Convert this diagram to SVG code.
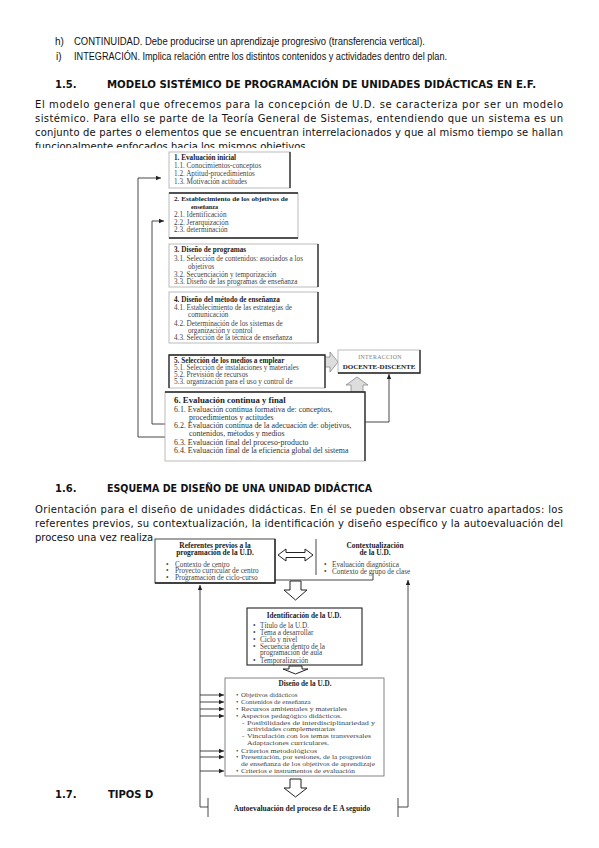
<svg xmlns="http://www.w3.org/2000/svg" width="599" height="848" viewBox="0 0 599 848">
<defs>
<style>
.list{font-family:"Liberation Sans",Arial,sans-serif;font-size:10px;fill:#111}
.body{font-family:"DejaVu Sans",Verdana,sans-serif;font-size:10px;fill:#111}
.h{font-family:"DejaVu Sans",Verdana,sans-serif;font-size:10px;font-weight:bold;fill:#111}
.d{font-family:"Liberation Serif","Times New Roman",serif;font-size:7.2px;fill:#444}
.db{font-family:"Liberation Serif","Times New Roman",serif;font-size:7.2px;font-weight:bold;fill:#222}
.d6{font-family:"Liberation Serif","Times New Roman",serif;font-size:7.9px;fill:#333}
.ds{font-family:"Liberation Serif","Times New Roman",serif;font-size:6.9px;fill:#444}
.box{fill:#fff;stroke:#aaa;stroke-width:0.8}
.dk{stroke:#222;stroke-width:1.3;fill:none}
.ln{stroke:#333;stroke-width:0.9;fill:none}
.blk{fill:#fff;stroke:#222;stroke-width:1}
.gblk{fill:#ddd;stroke:#888;stroke-width:0.8}
.mid{text-anchor:middle}
</style>
<marker id="ah" markerWidth="6" markerHeight="6" refX="5" refY="3" orient="auto" markerUnits="userSpaceOnUse">
<path d="M0,0.8 L5,3 L0,5.2 Z" fill="#222"/>
</marker>
</defs>
<rect x="0" y="0" width="599" height="848" fill="#fff"/>

<g id="page-text">
<text class="list" x="55" y="44.5">h)</text>
<text class="list" x="74" y="44.5" textLength="351" lengthAdjust="spacingAndGlyphs">CONTINUIDAD. Debe producirse un aprendizaje progresivo (transferencia vertical).</text>
<text class="list" x="56" y="59.5">i)</text>
<text class="list" x="74" y="59.5" textLength="373" lengthAdjust="spacingAndGlyphs">INTEGRACIÓN. Implica relación entre los distintos contenidos y actividades dentro del plan.</text>
<text class="h" x="55" y="87.5">1.5.</text>
<text class="h" x="107" y="87.5" textLength="429" lengthAdjust="spacingAndGlyphs">MODELO SISTÉMICO DE PROGRAMACIÓN DE UNIDADES DIDÁCTICAS EN E.F.</text>
<text class="body" x="35" y="107.5" textLength="528">El modelo general que ofrecemos para la concepción de U.D. se caracteriza por ser un modelo</text>
<text class="body" x="35" y="121.5" textLength="528">sistémico. Para ello se parte de la Teoría General de Sistemas, entendiendo que un sistema es un</text>
<text class="body" x="35" y="135.5" textLength="528">conjunto de partes o elementos que se encuentran interrelacionados y que al mismo tiempo se hallan</text>
<text class="body" x="35" y="149.5">funcionalmente enfocados hacia los mismos objetivos</text>
<rect x="30" y="148" width="540" height="5" fill="#fff"/>
<text class="h" x="55" y="491.5">1.6.</text>
<text class="h" x="107" y="491.5" textLength="265" lengthAdjust="spacingAndGlyphs">ESQUEMA DE DISEÑO DE UNA UNIDAD DIDÁCTICA</text>
<text class="body" x="35" y="512.5" textLength="528">Orientación para el diseño de unidades didácticas. En él se pueden observar cuatro apartados: los</text>
<text class="body" x="35" y="526.5" textLength="528">referentes previos, su contextualización, la identificación y diseño específico y la autoevaluación del</text>
<text class="body" x="35" y="540.5">proceso una vez realiza</text>
<text class="h" x="55" y="797.5">1.7.</text>
<text class="h" x="108" y="797.5">TIPOS D</text>
</g>

<!-- Diagram 1 -->
<g id="connectors-1">
<path class="ln" d="M165,437 H138 V178 H161" marker-end="url(#ah)"/>
<path class="ln" d="M165,424 H152 V221 H164" marker-end="url(#ah)"/>
<path class="ln" d="M365,422 H389 V374" marker-end="url(#ah)"/>
<polygon class="gblk" points="322,357 330,357 330,352 338,362 330,372 330,367 322,367"/>
<polygon class="gblk" points="351,392 351,385 346,385 357,377 368,385 363,385 363,392"/>
</g>

<g id="n1">
<rect class="box" x="169" y="152" width="121" height="36"/>
<line class="dk" x1="290" y1="152" x2="290" y2="188"/>
<text class="db" x="174" y="159.5">1.  Evaluación inicial</text>
<text class="d" x="174" y="167.5">1.1.  Conocimientos-conceptos</text>
<text class="d" x="174" y="175.5">1.2.  Aptitud-procedimientos</text>
<text class="d" x="174" y="184">1.3.  Motivación actitudes</text>
</g>

<g id="n2">
<rect class="box" x="169" y="193" width="129" height="45"/>
<line class="dk" x1="169" y1="193" x2="298" y2="193"/>
<line class="dk" x1="169" y1="238" x2="298" y2="238"/>
<text class="db" x="174" y="201.3" style="font-size:7px" textLength="114" lengthAdjust="spacingAndGlyphs">2. Establecimiento de los objetivos de</text>
<text class="db" x="191" y="208.6" style="font-size:7px" textLength="27" lengthAdjust="spacingAndGlyphs">enseñanza</text>
<text class="d" x="174" y="217.3">2.1. Identificación</text>
<text class="d" x="174" y="225.3">2.2. Jerarquización</text>
<text class="d" x="174" y="232.3">2.3. determinación</text>
</g>

<g id="n3">
<rect class="box" x="169" y="244" width="149" height="43"/>
<line class="dk" x1="318" y1="244" x2="318" y2="287"/>
<text class="db" x="174" y="251.5">3. Diseño de programas</text>
<text class="d" x="174" y="260.5">3.1. Selección de contenidos: asociados a los</text>
<text class="d" x="188" y="268.5">objetivos</text>
<text class="d" x="174" y="276.5">3.2. Secuenciación y temporización</text>
<text class="d" x="174" y="283.8">3.3. Diseño de las programas de enseñanza</text>
</g>

<g id="n4">
<rect class="box" x="169" y="292" width="149" height="51"/>
<line class="dk" x1="318" y1="292" x2="318" y2="343"/>
<text class="db" x="174" y="301.5">4. Diseño del método de enseñanza</text>
<text class="d" x="174" y="309.5">4.1. Establecimiento de las estrategias de</text>
<text class="d" x="188" y="316.5">comunicación</text>
<text class="d" x="174" y="325.5">4.2. Determinación de los sistemas de</text>
<text class="d" x="188" y="332.5">organización y control</text>
<text class="d" x="174" y="339.8">4.3. Selección de la técnica de enseñanza</text>
</g>

<g id="n5">
<rect class="box" x="169" y="355" width="156" height="33"/>
<path class="dk" d="M169,388 V355 H325 V388"/>
<text class="db" x="174" y="362.5">5. Selección de los medios a emplear</text>
<text class="d" x="174" y="369.5">5.1. Selección de instalaciones y materiales</text>
<text class="d" x="174" y="376.5">5.2. Previsión de recursos</text>
<text class="d" x="174" y="383.5">5.3. organización para el uso y control de</text>
</g>

<g id="n6">
<rect class="box" x="165" y="392" width="200" height="69" stroke="#999"/>
<path class="dk" d="M165,392 H365 V461"/>
<text class="db" x="174" y="403" style="font-size:8.8px">6. Evaluación continua y final</text>
<text class="d6" x="174" y="411.5">6.1. Evaluación continua formativa de: conceptos,</text>
<text class="d6" x="189" y="419.5">procedimientos y actitudes</text>
<text class="d6" x="174" y="428">6.2. Evaluación continua de la adecuación de: objetivos,</text>
<text class="d6" x="189" y="436">contenidos, métodos y medios</text>
<text class="d6" x="174" y="444.5">6.3. Evaluación final del proceso-producto</text>
<text class="d6" x="174" y="453">6.4. Evaluación final de la eficiencia global del sistema</text>
</g>

<g id="n7">
<rect class="box" x="338" y="350" width="82" height="23" stroke="#999"/>
<path class="dk" d="M420,350 V373 H338"/>
<text class="d mid" x="380" y="359" style="font-size:5.8px;fill:#777;letter-spacing:0.4px">INTERACCION</text>
<text class="db mid" x="379" y="368.5" style="font-size:7px">DOCENTE-DISCENTE</text>
</g>

<!-- Diagram 2 -->
<g id="connectors-2">
<path class="ln" d="M208,807 H200 V585" marker-end="url(#ah)"/>
<line class="ln" x1="208" y1="798" x2="208" y2="817"/>
<path class="ln" d="M398,807 H408 V580" marker-end="url(#ah)"/>
<line class="ln" x1="398" y1="798" x2="398" y2="817"/>
<path class="ln" d="M200,695 H224" marker-end="url(#ah)"/>
<path class="ln" d="M200,702 H224" marker-end="url(#ah)"/>
<path class="ln" d="M200,709 H224" marker-end="url(#ah)"/>
<path class="ln" d="M200,716 H224" marker-end="url(#ah)"/>
<path class="ln" d="M200,751 H224" marker-end="url(#ah)"/>
<path class="ln" d="M200,757 H224" marker-end="url(#ah)"/>
<path class="ln" d="M200,771 H224" marker-end="url(#ah)"/>
<polygon class="blk" points="278,555 286,549 286,552.5 305,552.5 305,549 313,555 305,561 305,557.5 286,557.5 286,561"/>
<polygon class="blk" points="290,581 301,581 301,590 307,590 295.5,600 284,590 290,590"/>
<polygon class="blk" points="289,666 302,666 302,669 308,669 295.5,674 283,669 289,669"/>
<polygon class="blk" points="290,779 301,779 301,788 307,788 295.5,797 284,788 290,788"/>
</g>

<g id="m1">
<path class="ln" d="M250,580 H373 V573"/>
<rect x="155" y="539" width="120" height="44" fill="#fff" stroke="#333" stroke-width="0.9"/>
<path class="dk" d="M275,539 V583 H155"/>
<text class="db mid" x="215" y="547.5" style="font-size:7.4px">Referentes previos a la</text>
<text class="db mid" x="215" y="555" style="font-size:7.4px">programación de la U.D.</text>
<text class="d" x="166" y="566.5">•</text><text class="d" x="175" y="566.5">Contexto de centro</text>
<text class="d" x="166" y="573">•</text><text class="d" x="175" y="573">Proyecto curricular de centro</text>
<text class="d" x="166" y="580">•</text><text class="d" x="175" y="580">Programación de ciclo-curso</text>
</g>

<g id="m2">
<line class="ln" x1="316" y1="539" x2="316" y2="575" stroke-width="1.2"/>
<text class="db mid" x="375" y="547.5" style="font-size:7.4px">Contextualización</text>
<text class="db mid" x="375" y="555" style="font-size:7.4px">de la U.D.</text>
<text class="d" x="324" y="566.5">•</text><text class="d" x="332" y="566.5">Evaluación diagnóstica</text>
<text class="d" x="324" y="573.5">•</text><text class="d" x="332" y="573.5">Contexto de grupo de clase</text>
</g>

<g id="m3">
<rect x="247" y="608" width="115" height="57" fill="#fff" stroke="#222" stroke-width="1.1"/>
<text class="db mid" x="304" y="617.5">Identificación de la U.D.</text>
<text class="d" x="253" y="627.5">•</text><text class="d" x="260" y="627.5">Título de la U.D.</text>
<text class="d" x="253" y="634.5">•</text><text class="d" x="260" y="634.5">Tema a desarrollar</text>
<text class="d" x="253" y="641.5">•</text><text class="d" x="260" y="641.5">Ciclo y nivel</text>
<text class="d" x="253" y="648.5">•</text><text class="d" x="260" y="648.5">Secuencia dentro de la</text>
<text class="d" x="260" y="655">programación de aula</text>
<text class="d" x="253" y="662.5">•</text><text class="d" x="260" y="662.5">Temporalización</text>
</g>

<g id="m4">
<rect x="225" y="678" width="159" height="98" fill="#fff" stroke="#777" stroke-width="0.9"/>
<text class="db mid" x="305" y="686">Diseño de la U.D.</text>
<text class="ds" x="236" y="697.3">•</text><text class="ds" x="241" y="697.3">Objetivos didácticos</text>
<text class="ds" x="236" y="704">•</text><text class="ds" x="241" y="704">Contenidos de enseñanza</text>
<text class="ds" x="236" y="711.3">•</text><text class="ds" x="241" y="711.3" textLength="106" lengthAdjust="spacingAndGlyphs">Recursos ambientales y materiales</text>
<text class="ds" x="236" y="718.3">•</text><text class="ds" x="241" y="718.3" textLength="101" lengthAdjust="spacingAndGlyphs">Aspectos pedagógico didácticos.</text>
<text class="ds" x="242" y="724.8">-</text><text class="ds" x="247" y="724.8" textLength="128" lengthAdjust="spacingAndGlyphs">Posibilidades de interdisciplinariedad y</text>
<text class="ds" x="247" y="731.3" textLength="88" lengthAdjust="spacingAndGlyphs">actividades complementarias</text>
<text class="ds" x="242" y="738.3">-</text><text class="ds" x="247" y="738.3" textLength="124" lengthAdjust="spacingAndGlyphs">Vinculación con los temas transversales</text>
<text class="ds" x="247" y="744.8" textLength="82" lengthAdjust="spacingAndGlyphs">Adaptaciones curriculares.</text>
<text class="ds" x="236" y="752.6">•</text><text class="ds" x="241" y="752.6" textLength="76" lengthAdjust="spacingAndGlyphs">Criterios metodológicos</text>
<text class="ds" x="236" y="759.2">•</text><text class="ds" x="241" y="759.2" textLength="130" lengthAdjust="spacingAndGlyphs">Presentación, por sesiones, de la progresión</text>
<text class="ds" x="241" y="765.8" textLength="134" lengthAdjust="spacingAndGlyphs">de enseñanza de los objetivos de aprendizaje</text>
<text class="ds" x="236" y="773.3">•</text><text class="ds" x="241" y="773.3" textLength="114" lengthAdjust="spacingAndGlyphs">Criterios e instrumentos de evaluación</text>
</g>

<g id="m5">
<text class="db mid" x="302" y="811" style="font-size:7.5px">Autoevaluación del proceso de E A seguido</text>
</g>
</svg>
